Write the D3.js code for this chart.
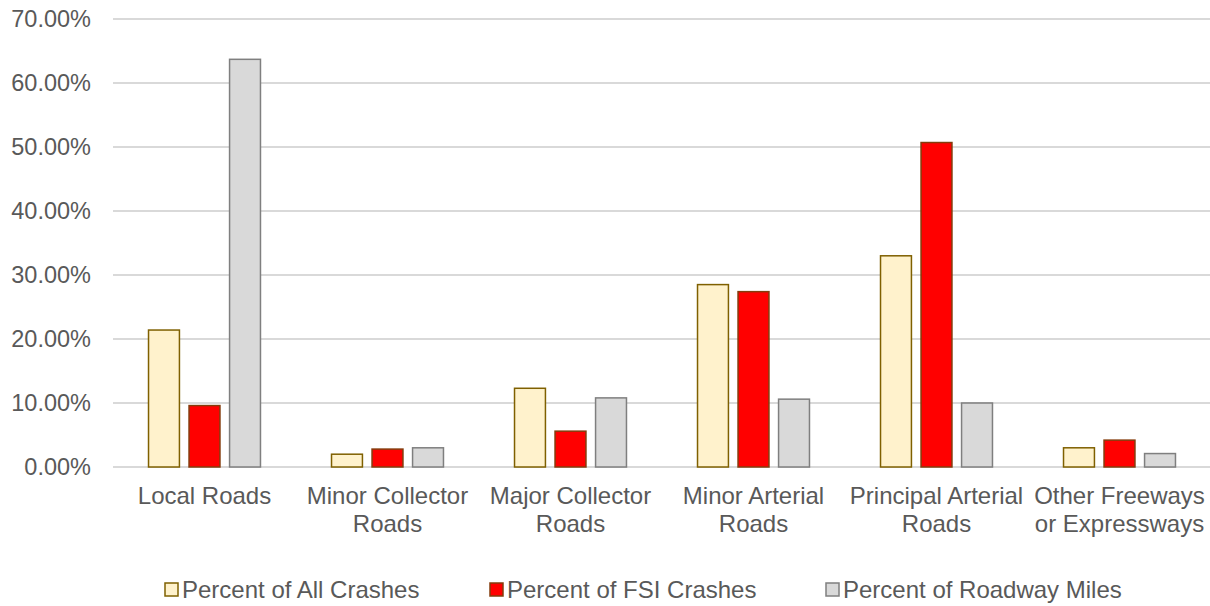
<!DOCTYPE html>
<html>
<head>
<meta charset="utf-8">
<script src="https://cdn.jsdelivr.net/npm/d3@7"></script>
<style>
  body { margin: 0; background: #fff; }
  text { font-family: "Liberation Sans", Arial, sans-serif; fill: #595959; }
</style>
</head>
<body>
<svg id="chart" width="1210" height="606"></svg>
<script>
const categories = ["Local Roads", "Minor Collector Roads", "Major Collector Roads", "Minor Arterial Roads", "Principal Arterial Roads", "Other Freeways or Expressways"];
const categoryLines = [["Local Roads"], ["Minor Collector", "Roads"], ["Major Collector", "Roads"], ["Minor Arterial", "Roads"], ["Principal Arterial", "Roads"], ["Other Freeways", "or Expressways"]];
const seriesNames = ["Percent of All Crashes", "Percent of FSI Crashes", "Percent of Roadway Miles"];
const allCrashes = [0.214, 0.020, 0.123, 0.285, 0.330, 0.030];
const fsiCrashes = [0.096, 0.028, 0.056, 0.274, 0.507, 0.042];
const roadwayMiles = [0.637, 0.030, 0.108, 0.106, 0.100, 0.021];
const yTicks = [0, 0.1, 0.2, 0.3, 0.4, 0.5, 0.6, 0.7];

const fills = ["#FFF2CC", "#FF0000", "#D9D9D9"];
const strokes = ["#7F6000", "#843C0C", "#7F7F7F"];
const seriesData = [allCrashes, fsiCrashes, roadwayMiles];

const svg = d3.select("#chart");
const plotLeft = 113, plotRight = 1211, plotTop = 19, plotBottom = 467;

const y = d3.scaleLinear().domain([0, 0.7]).range([plotBottom, plotTop]);
const x0 = d3.scaleBand().domain(categories).range([plotLeft, plotRight]).paddingInner(0.38).paddingOuter(0.19);
const x1 = d3.scaleBand().domain(seriesNames).range([0, x0.bandwidth()]).paddingInner(0.2);

// gridlines
svg.append("g").selectAll("line").data(yTicks).join("line")
  .attr("x1", plotLeft).attr("x2", plotRight)
  .attr("y1", d => Math.round(y(d))).attr("y2", d => Math.round(y(d)))
  .attr("stroke", "#D9D9D9").attr("stroke-width", 2);

// y axis labels
const yAxis = d3.axisLeft(y).tickValues(yTicks).tickFormat(d => (d * 100).toFixed(2) + "%").tickSize(0).tickPadding(0);
const yg = svg.append("g").attr("transform", `translate(91,0)`).call(yAxis);
yg.select(".domain").remove();
yg.selectAll("text").style("font-size", "23.5px").style("fill", "#595959").style("font-family", "'Liberation Sans', Arial, sans-serif");

// bars
const groups = svg.append("g").selectAll("g").data(categories).join("g")
  .attr("transform", d => `translate(${x0(d)},0)`);
groups.selectAll("rect").data((c, i) => seriesNames.map((s, j) => ({ s, j, v: seriesData[j][i] })))
  .join("rect")
  .attr("x", d => x1(d.s) + 0.75)
  .attr("width", x1.bandwidth() - 1.5)
  .attr("y", d => y(d.v))
  .attr("height", d => y(0) - y(d.v))
  .attr("fill", d => fills[d.j])
  .attr("stroke", d => strokes[d.j])
  .attr("stroke-width", 1.5);

// category labels
const xg = svg.append("g");
categories.forEach((c, i) => {
  const cx = x0(c) + x0.bandwidth() / 2;
  const t = xg.append("text").attr("x", cx).attr("y", 504)
    .attr("text-anchor", "middle").style("font-size", "24px");
  categoryLines[i].forEach((ln, k) => {
    t.append("tspan").attr("x", cx).attr("dy", k === 0 ? 0 : 28).text(ln);
  });
});

// legend
const legendX = [165, 490, 826];
const lg = svg.append("g");
seriesNames.forEach((s, j) => {
  lg.append("rect").attr("x", legendX[j]).attr("y", 583).attr("width", 13).attr("height", 13)
    .attr("fill", fills[j]).attr("stroke", strokes[j]).attr("stroke-width", 1.5);
  lg.append("text").attr("x", legendX[j] + 17).attr("y", 598).style("font-size", "24px").text(s);
});
</script>
</body>
</html>
